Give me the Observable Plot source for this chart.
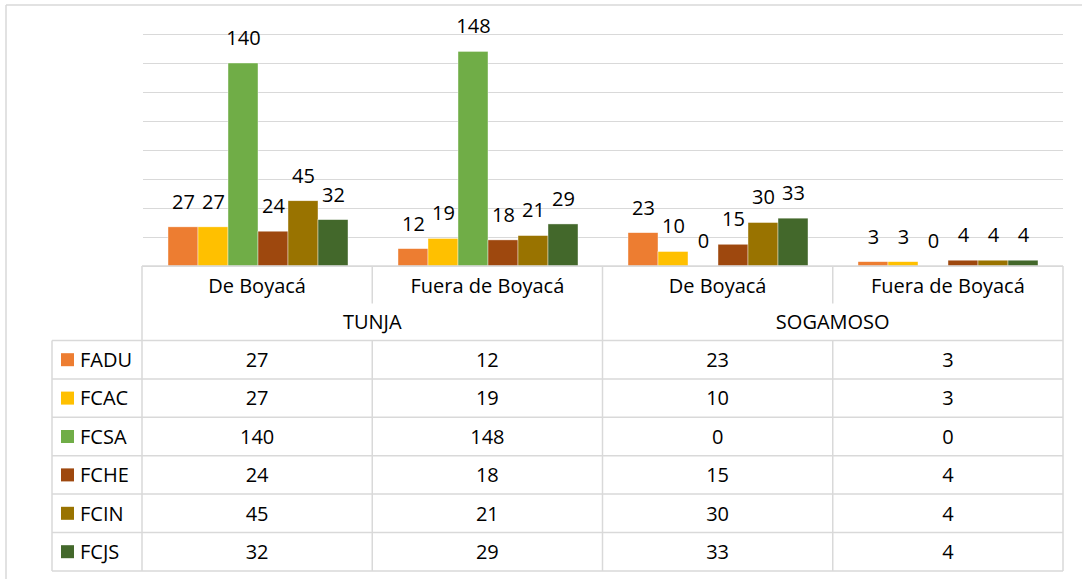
<!DOCTYPE html>
<html><head><meta charset="utf-8">
<script src="https://cdn.jsdelivr.net/npm/d3@7"></script>
<script src="https://cdn.jsdelivr.net/npm/@observablehq/plot@0.6"></script>
<style>
html,body{margin:0;padding:0;background:#fff;}
#wrap{position:relative;width:1082px;height:579px;overflow:hidden;font-family:"Open Sans", sans-serif;background:#fff;}
#wrap > svg{position:absolute;left:0;top:0;}
</style></head><body><div id="wrap"></div>
<script>
// ---- data ----
const faculties = ["FADU", "FCAC", "FCSA", "FCHE", "FCIN", "FCJS"];
const colors = ["#ED7D31", "#FFC000", "#70AD47", "#9E480E", "#997300", "#43682B"];
const cities = ["TUNJA", "SOGAMOSO"];
const origins = ["De Boyacá", "Fuera de Boyacá"];
const FADU = [27, 12, 23, 3];
const FCAC = [27, 19, 10, 3];
const FCSA = [140, 148, 0, 0];
const FCHE = [24, 18, 15, 4];
const FCIN = [45, 21, 30, 4];
const FCJS = [32, 29, 33, 4];
const gridTicks = [0, 20, 40, 60, 80, 100, 120, 140, 160];

// ---- build table ----
const series = {FADU, FCAC, FCSA, FCHE, FCIN, FCJS};
const groups = cities.flatMap(c => origins.map(o => ({city: c, origin: o, key: c + " – " + o})));
const data = groups.flatMap((g, gi) => faculties.map(f => ({key: g.key, faculty: f, value: series[f][gi]})));

// ---- layout ----
const W = 1082, H = 579, plotL = 142, plotR = 1063, base = 266, plotT = 34;
const FONT = "'Open Sans', sans-serif", FS = 20, LINE = "#D9D9D9";

const chart = Plot.plot({
  width: W, height: base + 1,
  marginLeft: plotL, marginRight: W - plotR, marginTop: plotT, marginBottom: 1,
  style: {fontFamily: FONT, fontSize: FS + "px", background: "transparent", overflow: "visible"},
  fx: {domain: groups.map(d => d.key), padding: 0, axis: null},
  x: {domain: faculties, paddingInner: 0, paddingOuter: 0.75, axis: null},
  y: {domain: [0, 160], axis: null},
  color: {domain: faculties, range: colors},
  marks: [
    Plot.ruleY(gridTicks, {stroke: LINE, strokeWidth: 1.2}),
    Plot.barY(data, {fx: "key", x: "faculty", y: "value", fill: "faculty", stroke: "white", strokeWidth: 0.6, strokeOpacity: 0.7}),
    Plot.text(data, {fx: "key", x: "faculty", y: "value", text: d => String(d.value), dy: -25, fontSize: FS, fill: "#000"})
  ]
});
const wrap = document.getElementById("wrap");
wrap.appendChild(chart);

// ---- data table (axis labels + values + legend keys) ----
const colW = (plotR - plotL) / 4;
const r1 = base, r2 = 303.5, r3 = 340.5, rowH = 38.4;
const tBottom = r3 + rowH * faculties.length;
const legL = 52;
const svg = d3.create("svg").attr("width", W).attr("height", H)
  .style("font-family", FONT).style("font-size", FS + "px").style("pointer-events", "none");
const ln = (x1, y1, x2, y2) => svg.append("line").attr("x1", x1).attr("y1", y1).attr("x2", x2).attr("y2", y2)
  .attr("stroke", LINE).attr("stroke-width", 1.5);
// outer chart-area border (cropped)
ln(6, 5, W, 5); ln(6, 5, 6, H);
// table grid
ln(plotL, r1, plotR, r1);
for (let i = 0; i <= faculties.length; i++) ln(legL, r3 + i * rowH, plotR, r3 + i * rowH);
ln(plotL, r1, plotL, tBottom); ln(plotR, r1, plotR, tBottom); ln(legL, r3, legL, tBottom);
ln(plotL + 2 * colW, r1, plotL + 2 * colW, tBottom);
[1, 3].forEach(k => { ln(plotL + k * colW, r1, plotL + k * colW, r2); ln(plotL + k * colW, r3, plotL + k * colW, tBottom); });
const txt = (x, y, s, anchor = "middle") => svg.append("text").attr("x", x).attr("y", y).attr("dy", "0.36em")
  .attr("text-anchor", anchor).attr("fill", "#000").text(s);
groups.forEach((g, gi) => txt(plotL + (gi + 0.5) * colW, (r1 + r2) / 2 + 1, g.origin));
cities.forEach((c, ci) => txt(plotL + (2 * ci + 1) * colW, (r2 + r3) / 2, c));
faculties.forEach((f, fi) => {
  const cy = r3 + (fi + 0.5) * rowH;
  svg.append("rect").attr("x", 61).attr("y", cy - 6.5).attr("width", 13).attr("height", 13).attr("fill", colors[fi]);
  txt(80, cy, f, "start");
  series[f].forEach((v, gi) => txt(plotL + (gi + 0.5) * colW, cy, String(v)));
});
wrap.appendChild(svg.node());
</script></body></html>
